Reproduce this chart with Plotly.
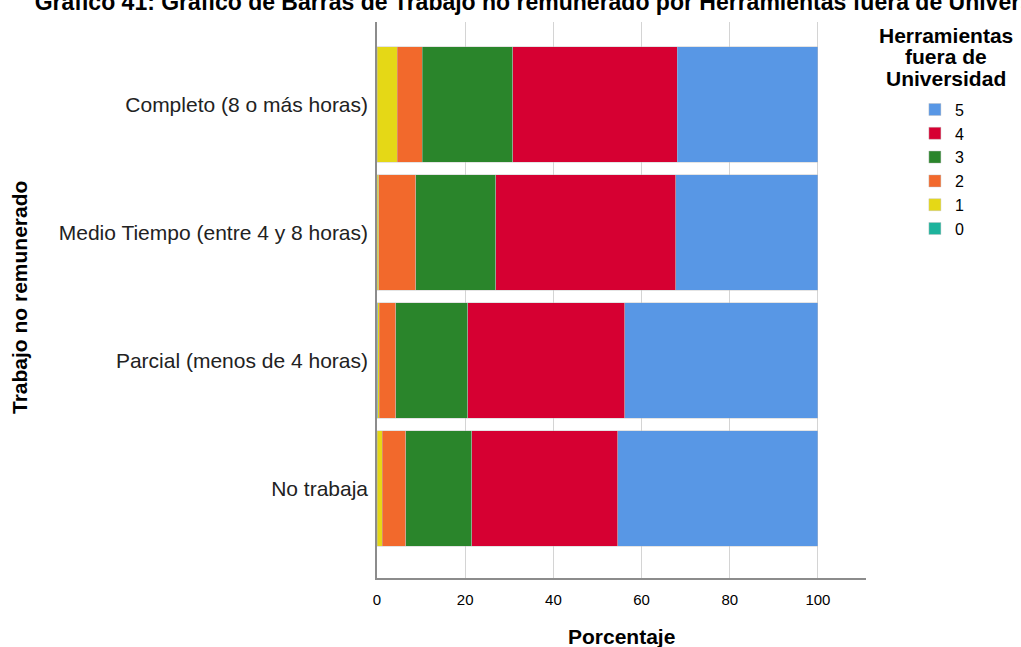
import plotly.graph_objects as go

categorias = ["Completo (8 o más horas)", "Medio Tiempo (entre 4 y 8 horas)",
              "Parcial (menos de 4 horas)", "No trabaja"]

# porcentaje por nivel de Herramientas fuera de Universidad
nivel_0 = [0.0, 0.0, 0.2, 0.0]
nivel_1 = [4.6, 0.4, 0.3, 1.2]
nivel_2 = [5.7, 8.4, 3.8, 5.3]
nivel_3 = [20.5, 18.1, 16.3, 15.0]
nivel_4 = [37.3, 40.8, 35.6, 33.1]
nivel_5 = [31.9, 32.3, 43.8, 45.4]

niveles = ["0", "1", "2", "3", "4", "5"]
series = [nivel_0, nivel_1, nivel_2, nivel_3, nivel_4, nivel_5]
colores = ["#1DB39C", "#E5D816", "#F2692C", "#2A852B", "#D60032", "#5897E5"]

fig = go.Figure()
for nombre, vals, col in zip(niveles, series, colores):
    fig.add_trace(go.Bar(
        x=vals, y=categorias, name=nombre, orientation="h",
        marker=dict(color=col, line=dict(color="rgba(190,190,190,0.7)", width=0.6)),
    ))

titulo_leyenda = ["Herramientas", "fuera de", "Universidad"]
anotaciones = [
    dict(text="<b>Trabajo no remunerado</b>", textangle=-90,
         xref="paper", yref="paper", x=-0.730, y=0.5036,
         xanchor="center", yanchor="middle",
         showarrow=False, font=dict(size=21)),
    dict(text="<b>Porcentaje</b>", xref="paper", yref="paper",
         x=0.5, y=-0.106, xanchor="center", yanchor="middle",
         showarrow=False, font=dict(size=21)),
]
for linea, yy in zip(titulo_leyenda, [0.9766, 0.9371, 0.8975]):
    anotaciones.append(dict(
        text="<b>" + linea + "</b>", xref="paper", yref="paper",
        x=1.1636, y=yy, xanchor="center", yanchor="middle",
        showarrow=False, font=dict(size=21)))

fig.update_layout(
    barmode="stack",
    bargap=0.1,
    width=1021, height=647,
    margin=dict(l=377, r=155, t=22, b=69),
    paper_bgcolor="white", plot_bgcolor="white",
    font=dict(family="Liberation Sans, Arial, sans-serif", color="#000"),
    title=dict(
        text="<b>Gráfico 41: Gráfico de Barras de Trabajo no remunerado por Herramientas fuera de Universidad</b>",
        xref="container", yref="container", x=0.546, y=0.9969,
        xanchor="center", yanchor="middle", font=dict(size=23),
    ),
    xaxis=dict(
        range=[0, 110.9], tickvals=[0, 20, 40, 60, 80, 100],
        showgrid=True, gridcolor="#d4d4d4", gridwidth=1,
        showline=True, linecolor="#8c8c8c", linewidth=1.5,
        zeroline=False, ticks="outside", ticklen=7, tickcolor="rgba(0,0,0,0)",
        tickfont=dict(size=15),
    ),
    yaxis=dict(
        categoryorder="array", categoryarray=categorias,
        range=[3.699, -0.645],
        showline=True, linecolor="#8c8c8c", linewidth=1.5,
        showgrid=False, ticks="outside", ticklen=3, tickcolor="rgba(0,0,0,0)",
        tickfont=dict(size=21, color="#222"),
    ),
    legend=dict(
        traceorder="reversed", x=1.10, y=0.873, xanchor="left", yanchor="top",
        font=dict(size=16), itemclick=False, bgcolor="rgba(0,0,0,0)",
    ),
    annotations=anotaciones,
)

fig.write_html("out.html", config={"displayModeBar": False},
               post_script="document.body.style.margin='0';")
